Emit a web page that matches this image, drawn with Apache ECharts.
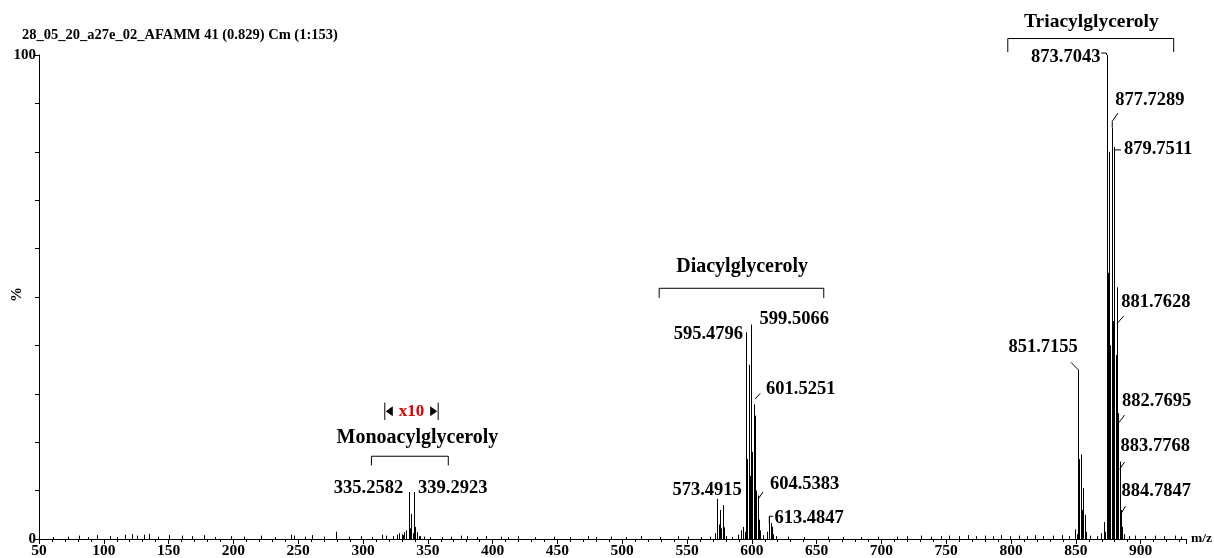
<!DOCTYPE html>
<html>
<head>
<meta charset="utf-8">
<script src="https://cdn.jsdelivr.net/npm/echarts@6/dist/echarts.min.js"></script>
<style>
html, body { margin: 0; padding: 0; background: #fff; }
#spectrum { width: 1214px; height: 558px; }
</style>
</head>
<body>
<div id="spectrum"></div>
<script>
// ---- data (m/z, relative intensity %) ----
var magPeaks = [[331.22, 0.8], [333.24, 1.8], [335.26, 9.7], [336.26, 2.2], [337.27, 5.2],
                [338.27, 1.2], [339.29, 9.7], [340.30, 2.5], [341.30, 1.4], [343.30, 0.6]];
var dagPeaks = [[571.48, 1.2], [573.49, 8.3], [574.50, 3.0], [575.50, 6.0], [576.51, 2.2],
                [577.52, 7.0], [578.52, 2.4], [593.47, 2.5], [594.48, 1.5], [595.48, 42.7],
                [596.48, 16.5], [597.49, 36.0], [598.50, 13.0], [599.51, 44.3], [600.51, 18.0],
                [601.53, 27.8], [602.53, 25.5], [603.54, 10.0], [604.54, 9.0], [605.55, 4.0],
                [606.55, 1.8], [611.46, 1.5], [613.48, 4.7], [614.49, 3.3], [615.50, 2.5], [616.50, 1.0]];
var tagPeaks = [[849.70, 2.0], [850.70, 1.0], [851.72, 35.0], [852.72, 16.5], [853.73, 17.5],
                [854.73, 6.0], [855.74, 10.5], [856.74, 5.0], [857.75, 1.5],
                [869.68, 1.2], [871.69, 3.5], [872.69, 1.5], [873.70, 100], [874.71, 55],
                [875.72, 80], [876.72, 40], [877.73, 85], [878.73, 45], [879.75, 81],
                [880.75, 38], [881.76, 52], [882.77, 26], [883.78, 16], [884.78, 6],
                [885.79, 2.5], [886.79, 1.0]];
var noisePeaks = [[61, 0.4], [72, 0.5], [80.7, 0.7], [88, 0.4], [94.9, 0.8], [105, 0.6], [110, 0.4],
                  [116.7, 0.9], [121.9, 1.0], [125.8, 0.7], [130.9, 0.9], [134.7, 1.1], [142, 0.5],
                  [150.2, 0.8], [160.5, 0.7], [168.2, 0.6], [177.2, 0.8], [186, 0.4], [197.8, 0.6],
                  [208.1, 0.5], [221, 0.7], [232, 0.4], [244.2, 0.9], [246.7, 0.7], [255, 0.5],
                  [261, 0.8], [270, 0.5], [279.5, 1.5], [289, 0.5], [298.2, 0.6], [307, 0.4],
                  [315, 0.9], [317.5, 0.7], [323, 0.6], [326, 0.9], [328, 1.2], [330, 1.0],
                  [332, 1.4], [344, 0.6], [347, 0.5], [352, 0.4], [361, 0.4], [368, 0.5],
                  [375.5, 0.7], [380.6, 0.6], [388, 0.4], [394.8, 0.6], [406.4, 0.5], [412, 0.4],
                  [419.3, 0.6], [433, 0.4], [447.3, 0.5], [460, 0.4], [473.4, 0.6], [480, 0.4],
                  [491.3, 0.5], [503, 0.4], [514.5, 0.6], [529, 0.4], [542.9, 0.6], [550.6, 0.5],
                  [561, 0.4], [568, 0.5], [580, 0.6], [585, 0.4], [589, 0.9], [591.7, 1.8],
                  [609, 0.8], [619, 0.6], [627.8, 0.5], [640, 0.4], [658.7, 0.5], [670, 0.4],
                  [684, 0.4], [697.3, 0.5], [712, 0.5], [720, 0.6], [730.8, 0.7], [738, 0.5],
                  [746, 0.6], [752, 0.7], [760, 0.6], [766.9, 0.8], [773, 0.6], [780, 0.7],
                  [786, 0.6], [792.6, 0.8], [799, 0.6], [806, 0.7], [812, 0.6], [818.3, 0.8],
                  [825, 0.6], [832, 0.7], [839, 0.8], [845, 0.6], [860.9, 0.7], [866, 0.6],
                  [891, 0.6], [895.4, 0.7], [903, 0.6], [910.9, 0.7], [918, 0.6], [926.4, 0.7], [931, 0.5]];

var xMin = 50, xMax = 935, xStep = 50;
var yLabelsShown = [0, 100];

// labelled peaks: text, peak m/z, peak %
var peakLabels = [
  ['335.2582', 335.26, 9.7], ['339.2923', 339.29, 9.7],
  ['573.4915', 573.49, 8.3], ['595.4796', 595.48, 42.7], ['599.5066', 599.51, 44.3],
  ['601.5251', 601.53, 27.8], ['604.5383', 604.54, 9.0], ['613.4847', 613.48, 4.7],
  ['851.7155', 851.72, 35.0], ['873.7043', 873.70, 100], ['877.7289', 877.73, 85],
  ['879.7511', 879.75, 81], ['881.7628', 881.76, 52], ['882.7695', 882.77, 26],
  ['883.7768', 883.78, 16], ['884.7847', 884.78, 6]
];
var groupNames = ['Monoacylglyceroly', 'Diacylglyceroly', 'Triacylglyceroly'];

var allPeaks = noisePeaks.concat(magPeaks, dagPeaks, tagPeaks);

var serif = '"Liberation Serif", "Times New Roman", serif';
var chart = echarts.init(document.getElementById('spectrum'));

var option = {
  animation: false,
  backgroundColor: '#fff',
  title: {
    text: '28_05_20_a27e_02_AFAMM 41 (0.829) Cm (1:153)',
    left: 17, top: 23,
    textStyle: { fontFamily: serif, fontWeight: 'bold', fontSize: 14.5, color: '#000' }
  },
  grid: { left: 39, right: 28, top: 55, bottom: 19, containLabel: false, outerBoundsMode: 'none' },
  xAxis: {
    type: 'value', min: xMin, max: xMax, interval: xStep,
    name: 'm/z', nameLocation: 'end', nameGap: 5,
    nameTextStyle: { fontFamily: serif, fontWeight: 'bold', fontSize: 13.5, color: '#000', verticalAlign: 'middle' },
    axisLine: { lineStyle: { color: '#000', width: 1 } },
    axisTick: { length: 5, lineStyle: { color: '#000' } },
    minorTick: { show: true, splitNumber: 5, length: 3, lineStyle: { color: '#000' } },
    splitLine: { show: false },
    axisLabel: {
      margin: 4, fontFamily: serif, fontWeight: 'bold', fontSize: 15.5, color: '#000',
      formatter: function (v) { return v % xStep === 0 ? String(v) : ''; }
    }
  },
  yAxis: {
    type: 'value', min: 0, max: 100, interval: 10,
    axisLine: { show: true, lineStyle: { color: '#000', width: 1 } },
    axisTick: { show: true, length: 4, lineStyle: { color: '#000' } },
    splitLine: { show: false },
    axisLabel: {
      margin: 3, fontFamily: serif, fontWeight: 'bold', fontSize: 15, color: '#000',
      formatter: function (v) { return yLabelsShown.indexOf(v) >= 0 ? String(v) : ''; }
    }
  },
  series: [{
    type: 'custom',
    data: allPeaks,
    renderItem: function (params, api) {
      var top = api.coord([api.value(0), api.value(1)]);
      var base = api.coord([api.value(0), 0]);
      var x = Math.round(top[0]) + 0.5;
      return {
        type: 'line',
        shape: { x1: x, y1: base[1], x2: x, y2: top[1] },
        style: { stroke: '#000', lineWidth: 1 }
      };
    }
  }]
};
chart.setOption(option);

// ---- annotations, placed in data coordinates (m/z, %) ----
function P(mz, pct) { return chart.convertToPixel({ gridIndex: 0 }, [mz, pct]); }

function textEl(str, mz, pct, align, size, color) {
  var p = P(mz, pct);
  return {
    type: 'text', x: p[0], y: p[1], z: 10,
    style: {
      text: str, fill: color || '#000',
      font: 'bold ' + (size || 18.5) + 'px ' + serif,
      textAlign: align || 'center', textVerticalAlign: 'middle'
    }
  };
}
function lineEl(pts) {
  return {
    type: 'polyline', z: 10,
    shape: { points: pts.map(function (q) { return P(q[0], q[1]); }) },
    style: { stroke: '#000', lineWidth: 1, fill: null }
  };
}
function bracket(mz0, mz1, topPct, endPct) {
  return lineEl([[mz0, endPct], [mz0, topPct], [mz1, topPct], [mz1, endPct]]);
}

var g = [];
// y-axis name, rotated, beside the middle of the axis
(function () {
  var p = P(xMin, 50.5);
  g.push({
    type: 'text', x: p[0] - 22, y: p[1], rotation: Math.PI / 2, z: 10,
    style: { text: '%', fill: '#000', font: 'bold 15px ' + serif, textAlign: 'center', textVerticalAlign: 'middle' }
  });
})();

// group headers and brackets
g.push(textEl(groupNames[0], 342.0, 21.0, 'center', 20));
g.push(bracket(306.5, 365.8, 17.1, 15.2));
g.push(textEl(groupNames[1], 592.5, 56.2, 'center', 20));
g.push(bracket(528.5, 655.5, 51.8, 49.8));
g.push(textEl(groupNames[2], 862.0, 106.9, 'center', 19.5));
g.push(bracket(797.5, 925.5, 103.4, 100.6));

// x10 marker over the MAG window
(function () {
  var l = 316.8, r = 358.0, y = 26.4;
  g.push(lineEl([[l, 28.2], [l, 24.6]]));
  g.push(lineEl([[r, 28.2], [r, 24.6]]));
  var a = P(l, y), b = P(r, y);
  g.push({ type: 'polygon', z: 10, shape: { points: [[a[0] + 1, a[1]], [a[0] + 8, a[1] - 5], [a[0] + 8, a[1] + 5]] }, style: { fill: '#000' } });
  g.push({ type: 'polygon', z: 10, shape: { points: [[b[0] - 1, b[1]], [b[0] - 8, b[1] - 5], [b[0] - 8, b[1] + 5]] }, style: { fill: '#000' } });
  g.push(textEl('x10', (l + r) / 2, y, 'center', 17, '#e00000'));
})();

// peak labels with leader lines
var L = {};
peakLabels.forEach(function (d) { L[d[0]] = d; });
function lab(name, mz, pct, align) { g.push(textEl(L[name][0], mz, pct, align)); }

lab('335.2582', 331.0, 10.5, 'right');
lab('339.2923', 342.5, 10.5, 'left');
lab('573.4915', 592.3, 10.1, 'right');
lab('595.4796', 593.2, 42.3, 'right');
lab('599.5066', 606.0, 45.4, 'left');
lab('601.5251', 611.0, 30.9, 'left');
g.push(lineEl([[602.5, 28.9], [606.5, 30.1]]));
lab('604.5383', 614.0, 11.3, 'left');
g.push(lineEl([[605.0, 8.3], [608.6, 9.7]]));
lab('613.4847', 617.4, 4.3, 'left');
g.push(lineEl([[613.5, 3.2], [613.5, 4.7], [616.5, 4.7]]));
lab('851.7155', 851.5, 39.6, 'right');
g.push(lineEl([[851.72, 35.0], [846.3, 36.5]]));
lab('873.7043', 869.0, 99.6, 'right');
g.push(lineEl([[869.6, 100.4], [873.7, 100.4], [873.7, 100]]));
lab('877.7289', 880.4, 90.7, 'left');
g.push(lineEl([[878.1, 85.0], [878.1, 86.3], [882.5, 88.0]]));
lab('879.7511', 887.1, 80.6, 'left');
g.push(lineEl([[880.2, 80.4], [884.8, 80.4]]));
lab('881.7628', 885.0, 48.9, 'left');
g.push(lineEl([[881.76, 44.5], [887.0, 46.1]]));
lab('882.7695', 885.6, 28.5, 'left');
g.push(lineEl([[883.0, 24.0], [887.6, 25.6]]));
lab('883.7768', 884.5, 19.2, 'left');
g.push(lineEl([[883.8, 14.4], [887.6, 15.9]]));
lab('884.7847', 885.3, 9.9, 'left');
g.push(lineEl([[884.8, 5.2], [888.3, 6.8]]));

chart.setOption({ graphic: g });
</script>
</body>
</html>
